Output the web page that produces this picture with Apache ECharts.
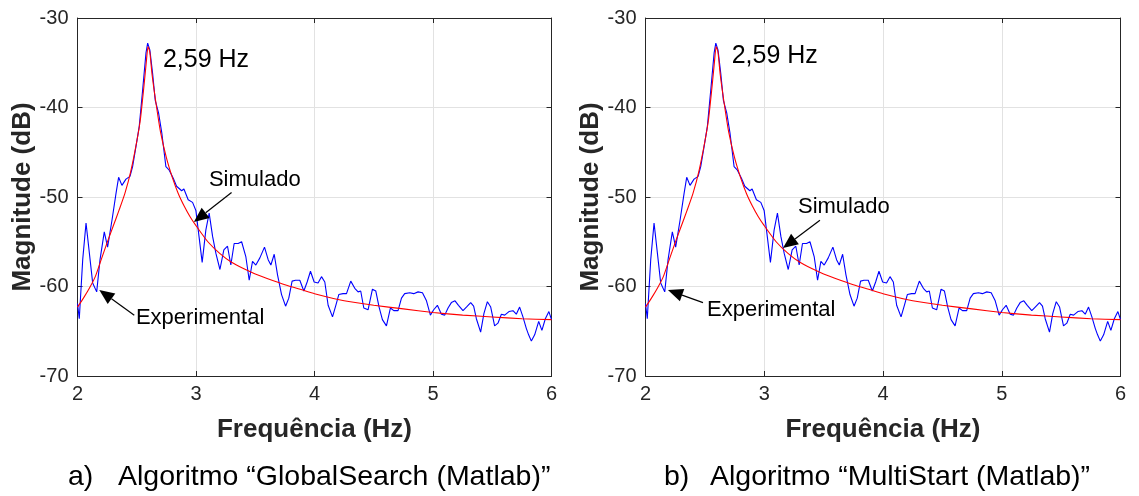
<!DOCTYPE html>
<html><head><meta charset="utf-8">
<script src="https://cdn.jsdelivr.net/npm/echarts@6/dist/echarts.min.js"></script>
<style>html,body{margin:0;padding:0;background:#fff}#c{width:1139px;height:496px}</style>
</head><body><div id="c"></div>
<script>
// Experimental spectrum (blue)
const freq = [2.000,2.015,2.044,2.072,2.128,2.162,2.190,2.226,2.254,2.291,2.325,2.347,2.375,2.409,2.443,2.465,2.493,2.521,2.550,2.578,2.592,2.611,2.634,2.656,2.684,2.712,2.746,2.774,2.808,2.836,2.879,2.898,2.934,2.971,2.999,3.019,3.052,3.083,3.111,3.140,3.168,3.202,3.235,3.266,3.294,3.322,3.356,3.385,3.421,3.449,3.477,3.505,3.539,3.578,3.609,3.632,3.660,3.688,3.722,3.756,3.783,3.811,3.840,3.876,3.910,3.938,3.966,3.997,4.030,4.059,4.087,4.115,4.152,4.180,4.205,4.241,4.270,4.306,4.340,4.368,4.390,4.416,4.452,4.489,4.517,4.545,4.573,4.607,4.641,4.669,4.705,4.734,4.761,4.804,4.837,4.874,4.911,4.945,4.978,5.006,5.037,5.071,5.099,5.127,5.155,5.186,5.215,5.253,5.282,5.318,5.343,5.366,5.402,5.430,5.459,5.487,5.520,5.548,5.577,5.605,5.641,5.675,5.703,5.731,5.759,5.788,5.807,5.830,5.858,5.892,5.919,5.948,5.978,6.000];
const experimental = [-61.9,-63.6,-57.0,-52.9,-59.6,-60.6,-57.0,-53.9,-55.6,-52.6,-49.6,-47.8,-48.7,-48.0,-47.7,-46.6,-44.4,-42.1,-38.0,-33.9,-32.8,-33.6,-36.2,-39.2,-40.6,-42.9,-46.6,-47.0,-47.9,-48.8,-49.3,-49.1,-50.3,-50.6,-51.5,-53.7,-57.3,-53.7,-51.8,-54.4,-56.3,-58.1,-55.9,-55.5,-57.6,-55.2,-55.2,-55.0,-56.7,-59.3,-57.2,-57.6,-56.8,-55.6,-57.0,-57.6,-56.4,-58.7,-60.9,-62.2,-61.3,-59.4,-59.3,-59.3,-60.5,-59.5,-58.3,-59.5,-59.6,-58.9,-59.5,-62.1,-63.4,-62.1,-60.9,-60.8,-60.8,-59.4,-60.2,-60.6,-60.5,-62.4,-62.6,-60.3,-60.5,-62.3,-63.7,-64.4,-62.4,-62.7,-62.7,-61.3,-60.8,-60.7,-60.8,-60.6,-60.7,-61.6,-63.2,-62.6,-62.1,-63.1,-63.2,-62.4,-61.8,-61.6,-62.1,-62.7,-62.3,-61.8,-62.2,-63.6,-65.1,-63.0,-61.7,-62.3,-64.4,-64.1,-63.1,-63.2,-62.8,-62.7,-63.1,-62.3,-63.4,-64.7,-65.4,-66.1,-65.4,-63.9,-64.9,-63.6,-62.8,-63.7];
// Simulated response (red)
const simFreq = [2.0,2.05,2.1,2.15,2.2,2.25,2.3,2.35,2.4,2.45,2.5,2.53,2.56,2.58,2.595,2.61,2.63,2.66,2.7,2.75,2.8,2.85,2.9,2.95,3.0,3.1,3.2,3.3,3.4,3.5,3.6,3.75,3.9,4.0,4.25,4.5,4.75,5.0,5.25,5.5,5.75,6.0];
const simulated = [-62.3,-61.3,-60.2,-58.9,-57.0,-55.1,-53.3,-51.5,-49.6,-47.1,-43.8,-41.4,-37.7,-35.0,-33.2,-33.8,-36.4,-39.3,-42.7,-45.6,-47.8,-49.6,-51.0,-52.2,-53.2,-55.0,-56.3,-57.3,-58.0,-58.6,-59.1,-59.8,-60.4,-60.8,-61.6,-62.1,-62.5,-62.9,-63.2,-63.4,-63.6,-63.7];

const xName = 'Frequência (Hz)';
const yName = 'Magnitude (dB)';
const captionTags = ['a)', 'b)'];
const captionTexts = ['Algoritmo “GlobalSearch (Matlab)”', 'Algoritmo “MultiStart (Matlab)”'];
const peakText = '2,59 Hz';
// annotation anchors in data units
const peakPos = [[2.721, -34.75], [2.726, -34.3]];
const simText = [[3.109, -48.1], [3.284, -51.1]];
const simTail = [[3.300, -49.5], [3.469, -52.6]];
const simTip  = [[2.982, -52.8], [3.158, -55.7]];
const expText = [[2.493, -63.5], [2.518, -62.6]];
const expTail = [[2.479, -63.2], [2.484, -61.8]];
const expTip  = [[2.184, -60.4], [2.189, -60.4]];

const FONT = '"Liberation Sans", Arial, Helvetica, sans-serif';
const AX = '#262626';
const grids = [
  {left: 77.5, top: 18, width: 474, height: 358},
  {left: 645.5, top: 18, width: 475, height: 358}
];
const captionTagX = [68, 664];
const captionTextX = [118, 710];

const chart = echarts.init(document.getElementById('c'), null, {renderer: 'canvas'});
const xAxes = [], yAxes = [], series = [];
grids.forEach((g, i) => {
  xAxes.push({
    type: 'value', gridIndex: i, min: 2, max: 6, interval: 1, position: 'bottom',
    axisLine: {show: true, onZero: false, lineStyle: {color: AX, width: 1}},
    axisTick: {show: true, inside: true, length: 5, lineStyle: {color: AX}},
    axisLabel: {color: AX, fontSize: 20, margin: 8, fontFamily: FONT},
    splitLine: {show: true, lineStyle: {color: '#e2e2e2', width: 1}},
    name: xName, nameLocation: 'middle', nameGap: 41,
    nameTextStyle: {color: AX, fontSize: 26, fontWeight: 'bold', fontFamily: FONT}
  });
  xAxes.push({
    type: 'value', gridIndex: i, min: 2, max: 6, interval: 1, position: 'top',
    axisLine: {show: true, onZero: false, lineStyle: {color: AX, width: 1}},
    axisTick: {show: true, inside: true, length: 5, lineStyle: {color: AX}},
    axisLabel: {show: false}, splitLine: {show: false}
  });
  yAxes.push({
    type: 'value', gridIndex: i, min: -70, max: -30, interval: 10, position: 'left',
    axisLine: {show: true, onZero: false, lineStyle: {color: AX, width: 1}},
    axisTick: {show: true, inside: true, length: 5, lineStyle: {color: AX}},
    axisLabel: {color: AX, fontSize: 20, margin: 9, fontFamily: FONT},
    splitLine: {show: true, lineStyle: {color: '#e2e2e2', width: 1}},
    name: yName, nameLocation: 'middle', nameGap: 33, nameRotate: 90,
    nameTextStyle: {color: AX, fontSize: 26, fontWeight: 'bold', fontFamily: FONT}
  });
  yAxes.push({
    type: 'value', gridIndex: i, min: -70, max: -30, interval: 10, position: 'right',
    axisLine: {show: true, onZero: false, lineStyle: {color: AX, width: 1}},
    axisTick: {show: true, inside: true, length: 5, lineStyle: {color: AX}},
    axisLabel: {show: false}, splitLine: {show: false}
  });
  series.push({
    type: 'line', xAxisIndex: 2 * i, yAxisIndex: 2 * i,
    data: freq.map((f, k) => [f, experimental[k]]),
    showSymbol: false, symbol: 'none', lineStyle: {color: '#0000ff', width: 1.1}, z: 3
  });
  series.push({
    type: 'line', xAxisIndex: 2 * i, yAxisIndex: 2 * i,
    data: simFreq.map((f, k) => [f, simulated[k]]),
    showSymbol: false, symbol: 'none', smooth: 0.2, lineStyle: {color: '#ff0000', width: 1.1}, z: 4
  });
});

chart.setOption({
  animation: false,
  backgroundColor: '#ffffff',
  grid: grids,
  xAxis: xAxes,
  yAxis: yAxes,
  series: series
});

function P(g, pt) { return chart.convertToPixel({gridIndex: g}, pt); }
function arrow(g, tail, tip) {
  const a = P(g, tail), b = P(g, tip);
  const dx = b[0] - a[0], dy = b[1] - a[1], L = Math.hypot(dx, dy), ux = dx / L, uy = dy / L;
  const hl = 15, hw = 6.5;
  const base = [b[0] - ux * hl, b[1] - uy * hl];
  const p1 = [base[0] - uy * hw, base[1] + ux * hw], p2 = [base[0] + uy * hw, base[1] - ux * hw];
  return [
    {type: 'line', shape: {x1: a[0], y1: a[1], x2: base[0], y2: base[1]}, style: {stroke: '#000', lineWidth: 1.2}, z: 10},
    {type: 'polygon', shape: {points: [b, p1, p2]}, style: {fill: '#000'}, z: 10}
  ];
}
function txt(x, y, s, size, align) {
  return {type: 'text', x: x, y: y, z: 10,
    style: {text: s, fill: '#000', font: size + 'px ' + FONT, textAlign: align || 'left', textVerticalAlign: 'middle'}};
}
const gfx = [];
grids.forEach((g, i) => {
  const pk = P(i, peakPos[i]);
  gfx.push(txt(pk[0], pk[1], peakText, 25));
  const st = P(i, simText[i]);
  gfx.push(txt(st[0], st[1], 'Simulado', 22));
  gfx.push(...arrow(i, simTail[i], simTip[i]));
  const et = P(i, expText[i]);
  gfx.push(txt(et[0], et[1], 'Experimental', 22));
  gfx.push(...arrow(i, expTail[i], expTip[i]));
  gfx.push(txt(captionTagX[i], 477, captionTags[i], 28.5));
  gfx.push(txt(captionTextX[i], 477, captionTexts[i], 28.5));
});
chart.setOption({graphic: gfx});
</script>
</body></html>
